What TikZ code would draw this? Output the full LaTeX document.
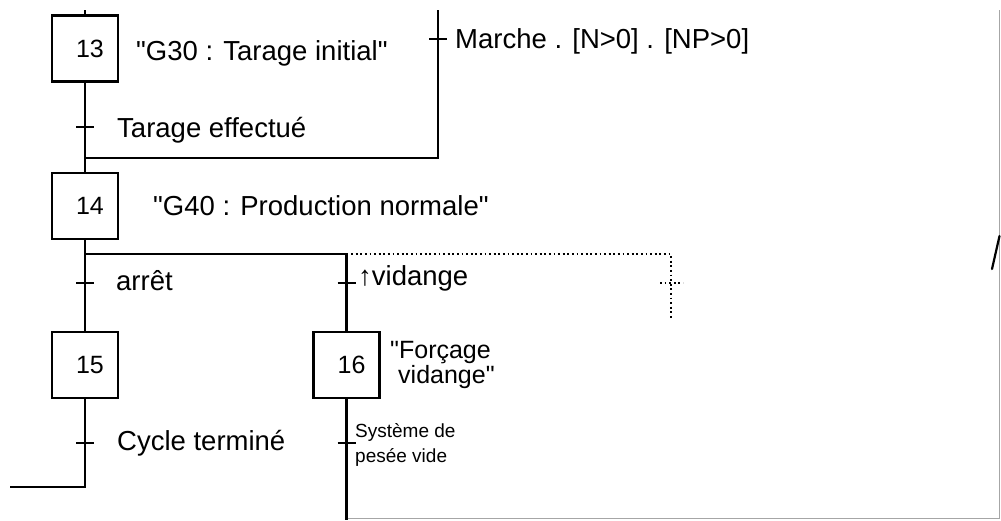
\documentclass[tikz,border=0pt]{standalone}
\usepackage{fontspec}
\setmainfont{Liberation Sans}[Ligatures=TeXOff]
\tikzset{
  stepbox/.style={draw, line width=2.4pt, minimum width=66pt, minimum height=66pt, inner sep=0pt, font=\fontsize{25}{28}\selectfont},
  link/.style={line width=2.6pt},
  tickmark/.style={line width=2.4pt},
  lbl/.style={anchor=base west, inner sep=0pt, font=\fontsize{27.5}{32}\selectfont},
  smalllbl/.style={anchor=base west, inner sep=0pt, font=\fontsize{19}{25}\selectfont, align=left},
  midlbl/.style={anchor=base west, inner sep=0pt, font=\fontsize{25}{25}\selectfont, align=left},
  dots/.style={line width=1.8pt, dash pattern=on 1.8pt off 2.8pt},
  frame/.style={draw=black!35, line width=1pt}
}
\begin{document}
\begin{tikzpicture}[x=1pt,y=-1pt]
\useasboundingbox (0,0) rectangle (1001,520);
\fill[white] (0,0) rectangle (1001,520);
% steps
\node[stepbox] (s13) at (85,48.5) {\hspace*{10pt}13};
\node[stepbox] (s14) at (85,206) {\hspace*{10pt}14};
\node[stepbox] (s15) at (85,365) {\hspace*{10pt}15};
\node[stepbox] (s16) at (346.5,365) {\hspace*{10pt}16};
% coordinates
\coordinate (c13top) at (85,10);
\coordinate (j1) at (85,158);
\coordinate (j1r) at (438,158);
\coordinate (mtop) at (438,10);
\coordinate (d1) at (85,254);
\coordinate (d1r) at (346.5,254);
\coordinate (dc) at (671,254);
\coordinate (de) at (671,318);
\coordinate (e15) at (85,487);
\coordinate (e15l) at (10,487);
\coordinate (e16) at (346.5,520);
\coordinate (t1) at (85,127);
\coordinate (t2) at (438,39);
\coordinate (t3) at (85,283);
\coordinate (t4) at (346.5,283);
\coordinate (t5) at (85,443);
\coordinate (t6) at (346.5,443);
\coordinate (t7) at (671,283);
% frame
\coordinate (fr1) at (346.5,518.5);
\coordinate (fr2) at (999.8,518.5);
\coordinate (fr3) at (999.8,10);
\draw[frame] (fr1) -- (fr2) -- (fr3);
\coordinate (sl1) at (992,269);
\coordinate (sl2) at (999.5,236);
\draw[line width=2.2pt, line cap=round] (sl1) -- (sl2);
% links
\draw[link] (c13top) -- (s13.north);
\draw[link] (s13.south) -- (j1) -- (s14.north);
\draw[link] (mtop) -- (j1r) -- (j1);
\draw[link] (s14.south) -- (d1) -- (s15.north);
\draw[link] (d1) -- (d1r) -- (s16.north);
\draw[dots] (d1r) -- (dc) -- (de);
\draw[link] (s15.south) -- (e15) -- (e15l);
\draw[link] (s16.south) -- (e16);
% ticks
\foreach \t in {t1,t2,t3,t4,t5,t6}{
  \draw[tickmark] ([xshift=-9pt]\t) -- ([xshift=9pt]\t);
}
\draw[dots] ([xshift=-11pt]t7) -- ([xshift=12pt]t7);
% labels
\node[lbl] (a13) at (136,60) {"G30 : Tarage initial"};
\node[lbl] (tr1) at (117,137) {Tarage effectué};
\node[lbl] (tr2) at (455,48) {Marche . [N>0] . [NP>0]};
\node[lbl] (a14) at (153,215) {"G40 : Production normale"};
\node[lbl] (tr3) at (116,290) {arrêt};
\node[lbl] (tr4) at (358,285) {↑vidange};
\node[midlbl] (a16) at (390,383) {"Forçage\\\hspace*{8pt}vidange"};
\node[lbl] (tr5) at (117,450) {Cycle terminé};
\node[smalllbl] (tr6) at (355,462) {Système de\\pesée vide};
\end{tikzpicture}
\end{document}
